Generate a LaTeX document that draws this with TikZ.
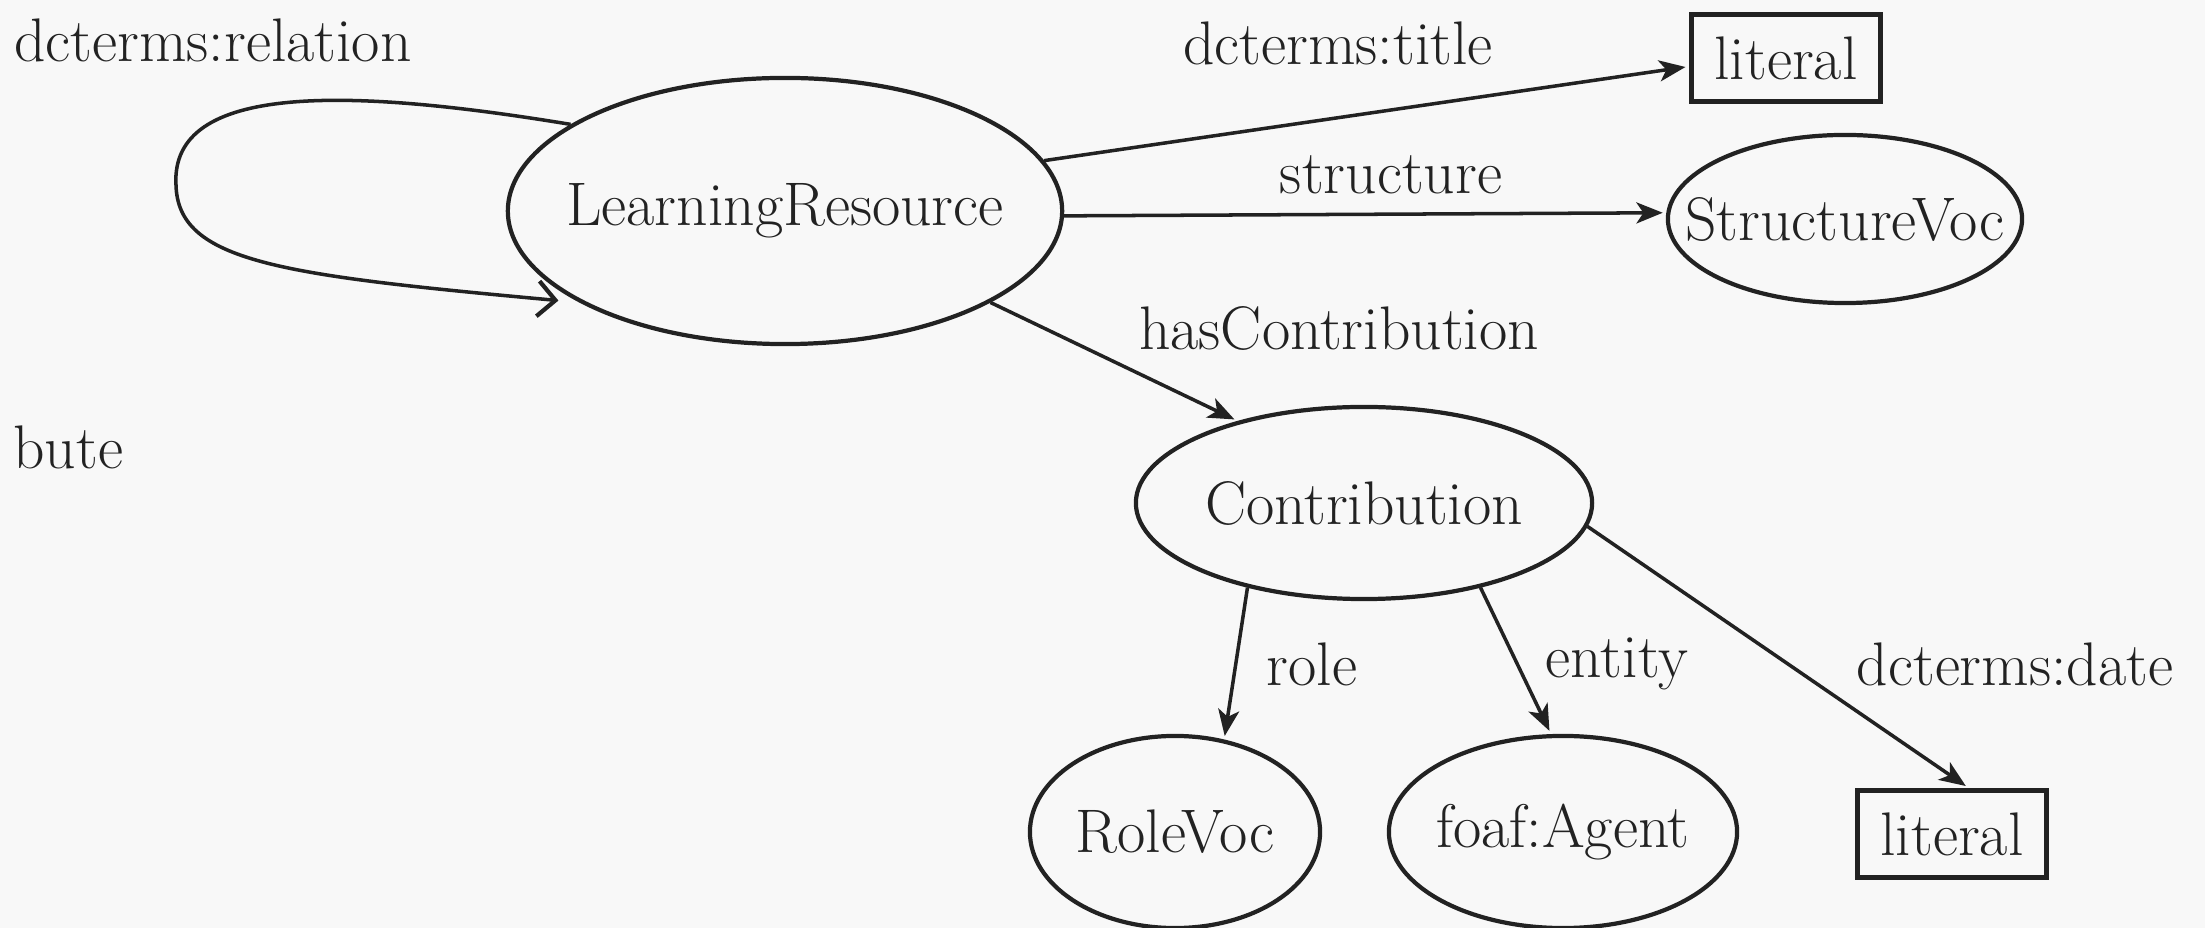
\documentclass[tikz,border=0pt]{standalone}
\usepackage{xcolor}
\usetikzlibrary{arrows.meta,shapes.geometric}

\definecolor{ink}{HTML}{222222}
\definecolor{paper}{HTML}{F8F8F8}

\tikzset{
  class/.style={ellipse,draw=ink,line width=1.2pt,inner xsep=-14pt,inner ysep=0pt},
  literal/.style={rectangle,draw=ink,line width=1.4pt,minimum width=1.89cm,minimum height=.87cm,inner sep=0pt},
  prop/.style={text=ink}
}

\begin{document}
\begin{tikzpicture}[x=0.01cm,y=-0.01cm,->,>={Stealth[length=7.5pt,width=6pt,inset=2pt]},shorten >=1pt,line width=1pt,draw=ink,
    every node/.append style={font=\fontsize{17.5}{21}\selectfont,text=ink}]
  \fill[paper] (0,0) rectangle (2205,928);
  \useasboundingbox (0,0) rectangle (2205,928);

  \node[class,minimum width=5.54cm,minimum height=2.66cm] (LR)    at (785,211)  {LearningResource};
  \node[class,minimum width=3.54cm,minimum height=1.68cm] (SV)    at (1845,219) {StructureVoc};
  \node[literal]                                          (lit1)  at (1786,58)  {literal};
  \node[class,minimum width=4.56cm,minimum height=1.92cm] (Contr) at (1364,503) {Contribution};
  \node[class,minimum width=2.90cm,minimum height=1.92cm] (Role)  at (1175,832) {RoleVoc};
  \node[class,minimum width=3.48cm,minimum height=1.92cm] (Agent) at (1563,832) {foaf:Agent};
  \node[literal]                                          (lit2)  at (1952,834) {literal};

  % property labels
  \node[prop] (pRel)   at (213,40)   {dcterms:relation};
  \node[prop,anchor=west] (pAttr) at (0,447) {bute};
  \node[prop] (pTitle) at (1338,43)  {dcterms:title};
  \node[prop] (pStr)   at (1391,175) {structure};
  \node[prop] (pHas)   at (1339,328) {hasContribution};
  \node[prop] (pRole)  at (1312,664) {role};
  \node[prop] (pEnt)   at (1617,664) {entity};
  \node[prop] (pDate)  at (2015,664) {dcterms:date};

  \path (LR.11)    edge (lit1.185)
        (LR.-1)    edge (SV.178)
        (LR.-24)   edge (Contr.147)
        (Contr.216) edge (Role.62)
        (Contr.324) edge (Agent.97)
        (Contr.354) edge (lit2.70);

  \draw[-{Straight Barb[length=5pt,width=10pt,line width=1.2pt]},shorten >=6pt] (LR.158) .. controls (350,88) and (170,82) .. (176,185)
                                    .. controls (178,262) and (280,275) .. (LR.204);
\end{tikzpicture}
\end{document}
